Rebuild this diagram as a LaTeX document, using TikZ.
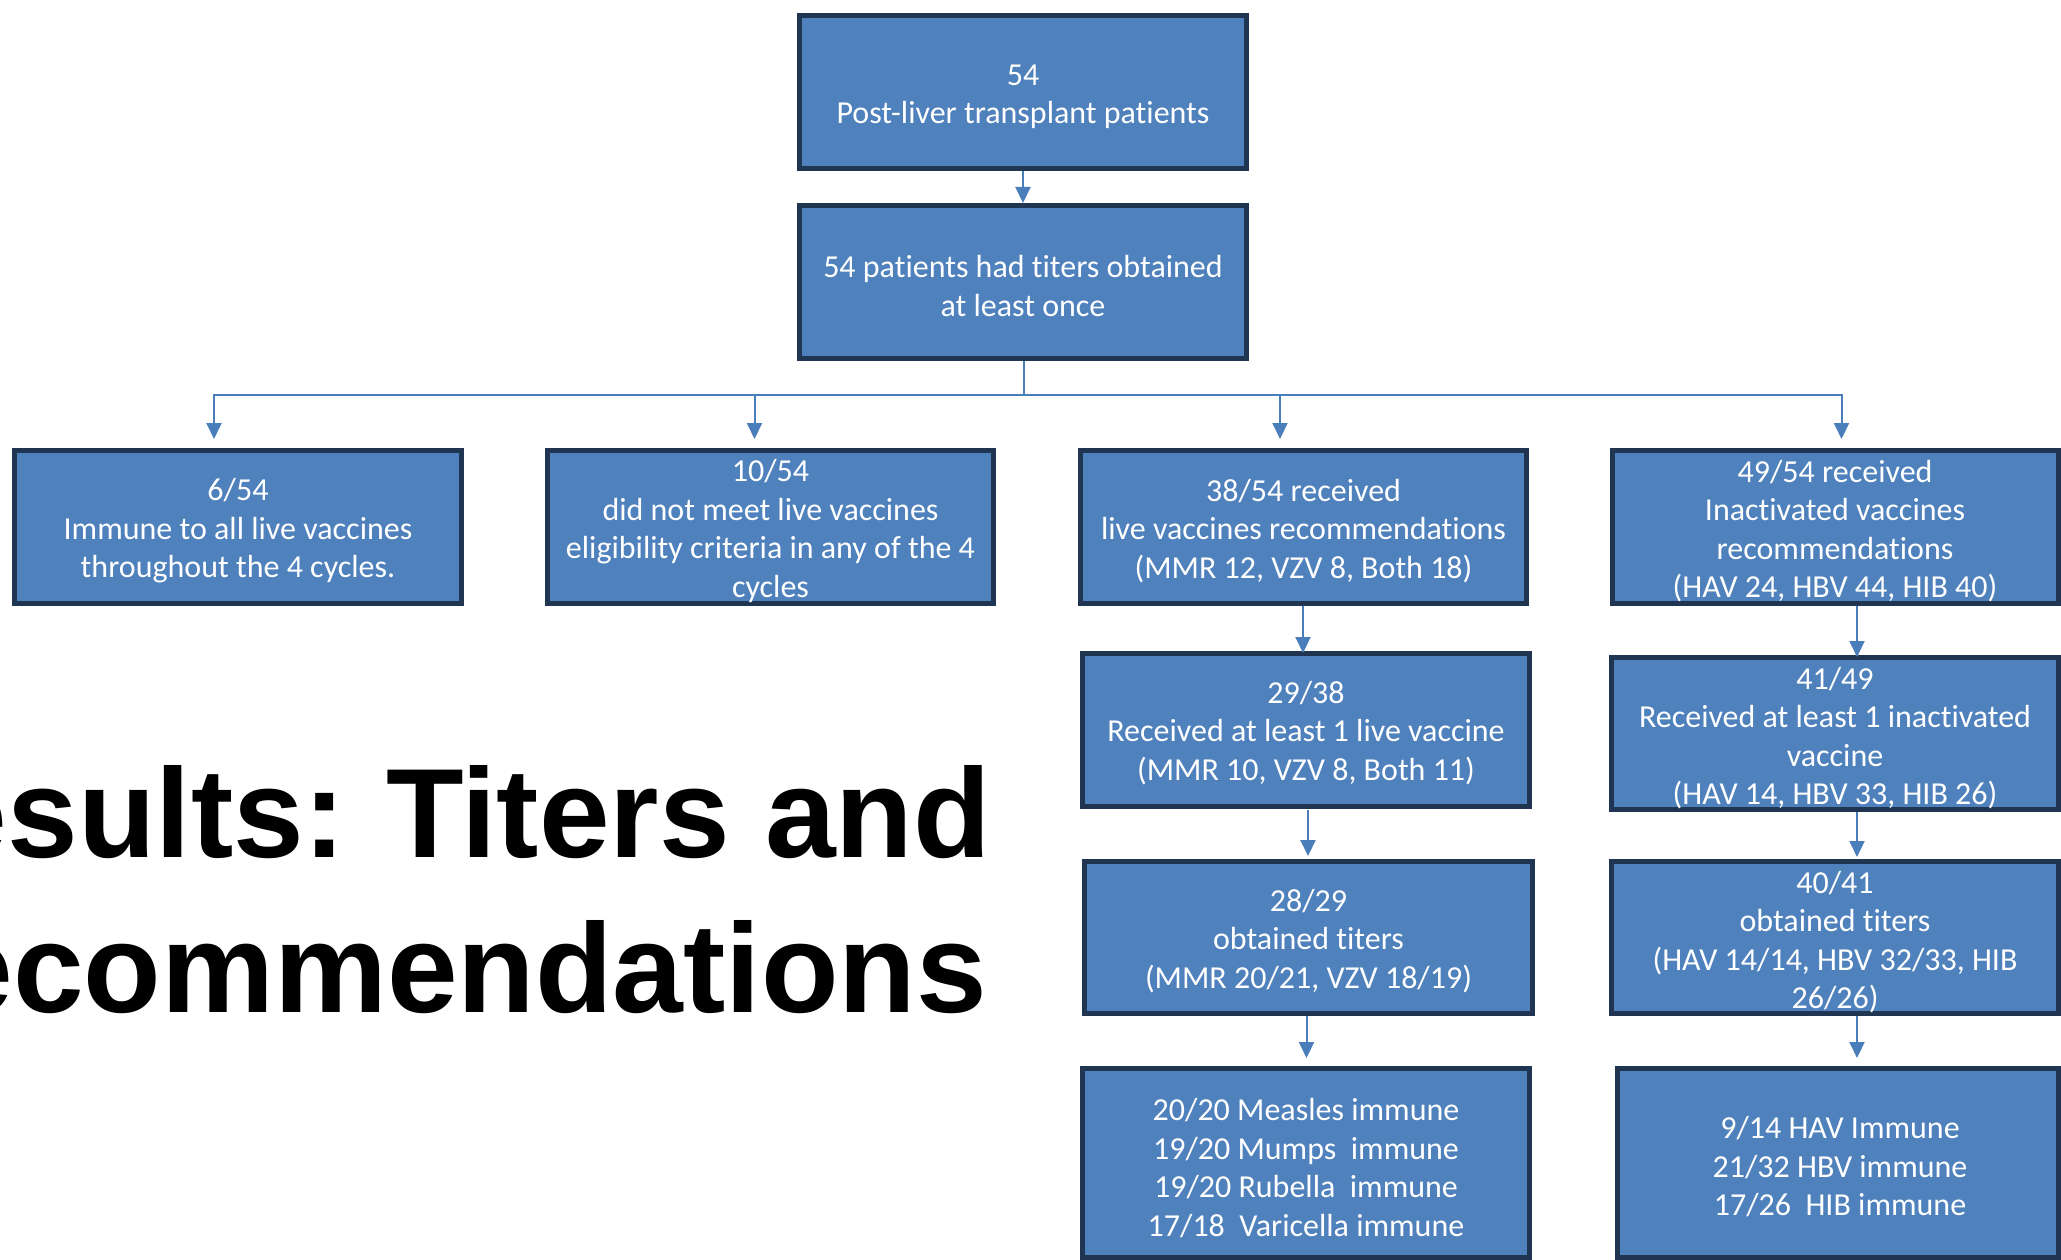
\documentclass[tikz,border=0pt]{standalone}
\usepackage{fontspec}
\setmainfont{Carlito}[Ligatures=NoCommon]
\newfontfamily\titlefont{Liberation Sans}
\usetikzlibrary{arrows.meta,calc}
\definecolor{boxfill}{HTML}{4F81BD}
\definecolor{boxline}{HTML}{1F3552}
\definecolor{connblue}{HTML}{4A7EBB}
\tikzset{
  box/.style={draw=boxline, fill=boxfill, line width=5pt, inner sep=0pt, outer sep=0pt, rectangle},
  boxtext/.style={text=white, align=center, font=\fontsize{32}{38.5}\selectfont, inner sep=0pt},
  connline/.style={draw=connblue, line width=2pt},
  tipstyle/.tip={Triangle[width=15pt,length=16pt]},
  connarrow/.style={connline, -tipstyle},
  titletext/.style={font=\titlefont\bfseries\fontsize{127}{150}\selectfont, anchor=base west, inner sep=0pt}
}
\begin{document}
\begin{tikzpicture}[x=1pt,y=-1pt]
\useasboundingbox (0,0) rectangle (2061,1260);
\clip (0,0) rectangle (2061,1260);

% title
\node[titletext] (title1) at (-155,857) {Results:\hspace{-7pt} Titers and};
\node[titletext] (title2) at (-149.5,1012) {Recommendations};

% boxes
\node[box, minimum width=447pt, minimum height=153pt] (b1) at (1023,92) {};
\node[box, minimum width=447pt, minimum height=153pt] (b2) at (1023,282) {};
\node[box, minimum width=447pt, minimum height=153pt] (a) at (238,527) {};
\node[box, minimum width=446pt, minimum height=153pt] (b) at (770.5,527) {};
\node[box, minimum width=446pt, minimum height=153pt] (c) at (1303.5,527) {};
\node[box, minimum width=446pt, minimum height=153pt] (d) at (1835.5,527) {};
\node[box, minimum width=447pt, minimum height=153pt] (c2) at (1306,730) {};
\node[box, minimum width=447pt, minimum height=152pt] (d2) at (1835,733.5) {};
\node[box, minimum width=448pt, minimum height=152pt] (c3) at (1308.5,937.5) {};
\node[box, minimum width=447pt, minimum height=152pt] (d3) at (1835,937.5) {};
\node[box, minimum width=447pt, minimum height=189pt] (c4) at (1306,1163) {};
\node[box, minimum width=441pt, minimum height=189pt] (d4) at (1838,1163) {};

% texts
\node[boxtext] (tb1) at (1023,97) {54\\Post-liver transplant patients};
\node[boxtext] (tb2) at (1023,286) {54 patients had titers obtained\\at least once};
\node[boxtext] (ta) at (238,531) {6/54\\Immune to all live vaccines\\throughout the 4 cycles.};
\node[boxtext] (tb) at (770.5,531) {10/54\\did not meet live vaccines\\eligibility criteria in any of the 4\\cycles};
\node[boxtext] (tc) at (1303.5,531) {38/54 received\\live vaccines recommendations\\(MMR 12, VZV 8, Both 18)};
\node[boxtext] (td) at (1835,531) {49/54 received\\Inactivated vaccines\\recommendations\\(HAV 24, HBV 44, HIB 40)};
\node[boxtext] (tc2) at (1306,733) {29/38\\Received at least 1 live vaccine\\(MMR 10, VZV 8, Both 11)};
\node[boxtext] (td2) at (1835,738) {41/49\\Received at least 1 inactivated\\vaccine\\(HAV 14, HBV 33, HIB 26)};
\node[boxtext] (tc3) at (1308.5,941) {28/29\\obtained titers\\(MMR 20/21, VZV 18/19)};
\node[boxtext] (td3) at (1835,942) {40/41\\obtained titers\\(HAV 14/14, HBV 32/33, HIB\\26/26)};
\node[boxtext] (tc4) at (1306,1168) {20/20 Measles immune\\19/20 Mumps\ \ immune\\19/20 Rubella\ \ immune\\17/18\ \ Varicella immune};
\node[boxtext] (td4) at (1840,1167) {9/14 HAV Immune\\21/32 HBV immune\\17/26\ \ HIB immune};

% connectors
\draw[connarrow] ($(b1.south)+(0,2.5)$) -- ($(b2.north)+(0,-2.5)$);
\coordinate (j) at ($(b2.south)+(1,36.2)$);
\coordinate (dA) at ($(a.north)+(-24,-55.8)$);
\coordinate (dB) at ($(b.north)+(-16,-55.8)$);
\coordinate (dC) at ($(c.north)+(-23.5,-55.8)$);
\coordinate (dD) at ($(d.north)+(6,-55.8)$);
\draw[connline] ($(b2.south)+(1,2.5)$) -- (j);
\draw[connline, tipstyle-tipstyle] ($(a.north)+(-24,-11.5)$) -- (dA) -- (dD) -- ($(d.north)+(6,-11.5)$);
\draw[connarrow] (dB) -- ($(b.north)+(-16,-11.5)$);
\draw[connarrow] (dC) -- ($(c.north)+(-23.5,-11.5)$);

\draw[connarrow] ($(c.south)+(-0.5,2.5)$) -- ($(c2.north)+(-3,-0.5)$);
\draw[connarrow] ($(d.south)+(21.5,2.5)$) -- ($(d2.north)+(22,-0.5)$);
\draw[connarrow] ($(c2.south)+(2,3)$) -- ($(c3.north)+(-0.5,-5.5)$);
\draw[connarrow] ($(d2.south)+(22,2.5)$) -- ($(d3.north)+(22,-4.5)$);
\draw[connarrow] ($(c3.south)+(-2,2.5)$) -- ($(c4.north)+(0.5,-10.5)$);
\draw[connarrow] ($(d3.south)+(22,2.5)$) -- ($(d4.north)+(19,-10.5)$);
\end{tikzpicture}
\end{document}
